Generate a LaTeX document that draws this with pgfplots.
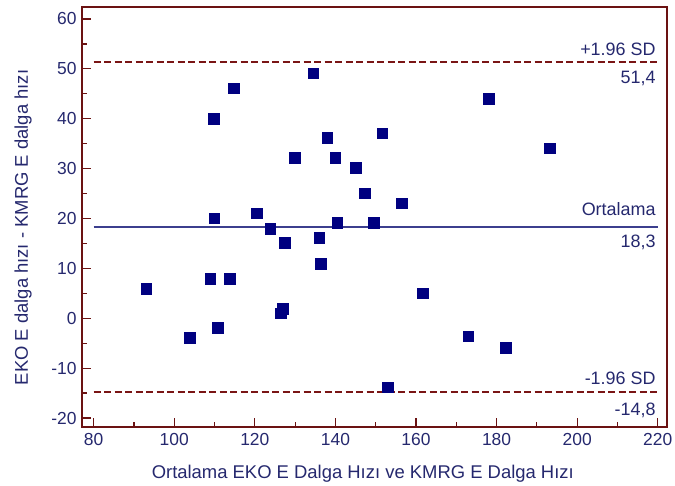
\documentclass[border=0pt]{standalone}
\usepackage{fontspec}
\setmainfont{Liberation Sans}
\usepackage{pgfplots}
\pgfplotsset{compat=1.18}

\definecolor{boxred}{HTML}{6B1212}
\definecolor{navytxt}{HTML}{25286E}
\definecolor{ptnavy}{HTML}{000080}
\definecolor{meanblue}{HTML}{3C3F8E}
\definecolor{sdred}{HTML}{7A1515}

% mean of the two methods vs. their difference
\pgfplotstableread{
avg   diff
93.0   5.9
103.8 -3.9
108.9  7.9
109.8 40.0
109.9 20.1
110.7 -1.9
113.8  7.9
114.8 46.1
120.5 21.1
123.8 18.0
126.4  1.0
126.9  1.9
127.4 15.1
129.9 32.2
134.5 49.1
136.0 16.1
136.4 11.0
137.9 36.2
139.9 32.2
140.4 19.2
145.0 30.2
147.3 25.1
149.5 19.2
151.6 37.1
153.0 -13.8
156.5 23.1
161.7  5.0
172.9 -3.6
178.0 44.0
182.2 -5.9
193.2 34.1
}\diffdata

% limits of agreement: x from, x to
\pgfplotstableread{
x    mean upper lower
80   18.3 51.4 -14.8
220  18.3 51.4 -14.8
}\limits

\begin{document}
\begin{tikzpicture}
\begin{axis}[
  scale only axis, width=585bp, height=420bp,
  at={(82bp,59bp)}, anchor=south west,
  xmin=77.1, xmax=222.3, ymin=-21.8, ymax=62.4,
  xtick={80,100,...,220}, ytick={-20,-10,...,60},
  yticklabels={-20,-10,0,10,20,30,40,50,60},
  xticklabels={80,100,120,140,160,180,200,220},
  minor x tick num=1, minor y tick num=1,
  xtick pos=bottom, ytick pos=left,
  tick align=inside, major tick length=9bp, minor tick length=5bp,
  axis line style={boxred, line width=1.6bp},
  every tick/.style={boxred, line width=1.2bp},
  ticklabel style={font=\fontsize{17.5}{20}\selectfont, text=navytxt},
  xticklabel style={yshift=-3bp},
  yticklabel style={xshift=-2bp},
  xlabel={Ortalama EKO E Dalga Hızı ve KMRG E Dalga Hızı},
  ylabel={EKO E dalga hızı - KMRG E dalga hızı},
  label style={font=\fontsize{18.5}{22}\selectfont, text=navytxt, inner sep=0pt},
  xlabel style={at={(axis description cs:0.48,0)}, anchor=north, yshift=-38bp},
  ylabel style={at={(axis description cs:0,0.475)}, anchor=south, yshift=50bp},
  clip=false,
]
\addplot[sdred, line width=1.8bp, dash pattern=on 7bp off 3.5bp] table[x=x, y=upper] {\limits};
\addplot[sdred, line width=1.8bp, dash pattern=on 7bp off 3.5bp] table[x=x, y=lower] {\limits};
\addplot[meanblue, line width=1.8bp] table[x=x, y=mean] {\limits};
\addplot[only marks, mark=square*, mark size=5.3bp, mark options={fill=ptnavy, draw=ptnavy, line width=0.3bp}] table[x=avg, y=diff] {\diffdata};

\begin{scope}[every node/.style={font=\fontsize{18}{21}\selectfont, text=navytxt, inner sep=0pt, xshift=-2bp}]
\node[anchor=south east] at (axis cs:220,51.4) [yshift=6bp] {+1.96 SD};
\node[anchor=north east] at (axis cs:220,51.4) [yshift=-9bp] {51,4};
\node[anchor=south east] at (axis cs:220,18.3) [yshift=11bp] {Ortalama};
\node[anchor=north east] at (axis cs:220,18.3) [yshift=-8bp] {18,3};
\node[anchor=south east] at (axis cs:220,-14.8) [yshift=7bp] {-1.96 SD};
\node[anchor=north east] at (axis cs:220,-14.8) [yshift=-11bp] {-14,8};
\end{scope}
\end{axis}
\pgfresetboundingbox
\useasboundingbox (0,0) rectangle (675bp,486bp);
\end{tikzpicture}
\end{document}
